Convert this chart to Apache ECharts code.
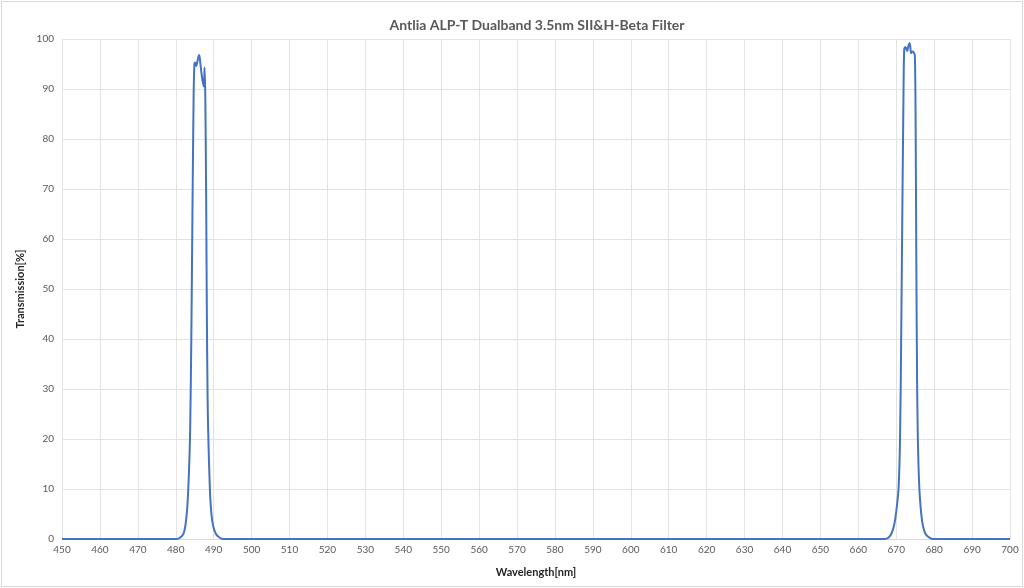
<!DOCTYPE html>
<html>
<head>
<meta charset="utf-8">
<script src="https://cdn.jsdelivr.net/npm/echarts@6/dist/echarts.min.js"></script>
<style>
html,body{margin:0;padding:0;background:#fff;}
#chart{width:1024px;height:588px;}
</style>
</head>
<body>
<div id="chart"></div>
<script>
var titleText = "Antlia ALP-T Dualband 3.5nm SII&H-Beta Filter";
var xAxisName = "Wavelength[nm]";
var yAxisName = "Transmission[%]";

var wavelength = [
  450, 480, 481, 482, 482.5, 483, 483.3, 483.6, 483.8, 484.1, 484.4, 484.7, 484.9,
  485.1, 485.4, 485.7, 486.0, 486.2, 486.5, 486.8, 487.1, 487.4, 487.6, 487.8,
  488.0, 488.2, 488.4, 488.6, 489.0, 489.4, 489.9, 490.6, 491.5, 492.5,
  667, 668, 668.8, 669.5, 670, 670.6, 671.0, 671.3, 671.6, 671.9, 672.1,
  672.4, 672.6, 672.9, 673.2, 673.5, 673.7, 673.9, 674.3, 674.6, 674.9,
  675.1, 675.3, 675.5, 675.7, 676.1, 676.6, 677.0, 677.6, 678.5, 679.7, 700
];
var transmission = [
  0, 0, 0.2, 1.0, 2.5, 6, 10, 16, 22, 40, 65, 88, 94.8,
  95.3, 94.6, 95.5, 96.5, 96.8, 95, 93, 91.5, 90.5, 94.3, 88,
  70, 45, 28, 20, 10, 5, 2.5, 1.0, 0.3, 0,
  0, 0.3, 1.2, 3, 5.5, 10, 20, 40, 65, 88, 97.9,
  98.4, 98.2, 97.6, 98.6, 99.2, 98.5, 97.2, 97.5, 97.3, 96.8,
  85, 55, 32, 20, 10, 5, 2.8, 1.2, 0.4, 0, 0
];

var seriesData = wavelength.map(function (w, i) { return [w, transmission[i]]; });

var chart = echarts.init(document.getElementById('chart'), null, {renderer: 'canvas'});
var option = {
  backgroundColor: '#ffffff',
  animation: false,
  title: {
    text: titleText,
    left: 532,
    top: 13,
    textAlign: 'center',
    textStyle: {fontFamily: 'Lato', fontWeight: 'bold', fontSize: 14, color: '#595959'}
  },
  graphic: [{
    type: 'rect',
    shape: {x: 1.5, y: 1.5, width: 1021, height: 585},
    style: {fill: 'none', stroke: '#d9d9d9', lineWidth: 1},
    silent: true
  }],
  grid: {left: 62, right: 14, top: 39, bottom: 49, containLabel: false},
  xAxis: {
    type: 'value',
    min: 450, max: 700, interval: 10,
    name: xAxisName,
    nameLocation: 'middle',
    nameGap: 28,
    nameTextStyle: {fontFamily: 'Lato', fontWeight: 'bold', fontSize: 11, color: '#262626'},
    axisLine: {show: true, lineStyle: {color: '#d9d9d9', width: 1}},
    axisTick: {show: false},
    axisLabel: {fontFamily: 'Lato', fontSize: 10, color: '#595959', margin: 6},
    splitLine: {show: true, lineStyle: {color: '#e3e3e3', width: 1}}
  },
  yAxis: {
    type: 'value',
    min: 0, max: 100, interval: 10,
    name: yAxisName,
    nameLocation: 'middle',
    nameGap: 35,
    nameTextStyle: {fontFamily: 'Lato', fontWeight: 'bold', fontSize: 11, color: '#262626'},
    axisLine: {show: false},
    axisTick: {show: false},
    axisLabel: {fontFamily: 'Lato', fontSize: 10, color: '#595959', margin: 8},
    splitLine: {show: true, lineStyle: {color: '#e3e3e3', width: 1}}
  },
  series: [{
    type: 'line',
    data: seriesData,
    showSymbol: false,
    smooth: 0.3,
    lineStyle: {color: '#4472C4', width: 2},
    itemStyle: {color: '#4472C4'}
  }]
};
chart.setOption(option);
</script>
</body>
</html>
